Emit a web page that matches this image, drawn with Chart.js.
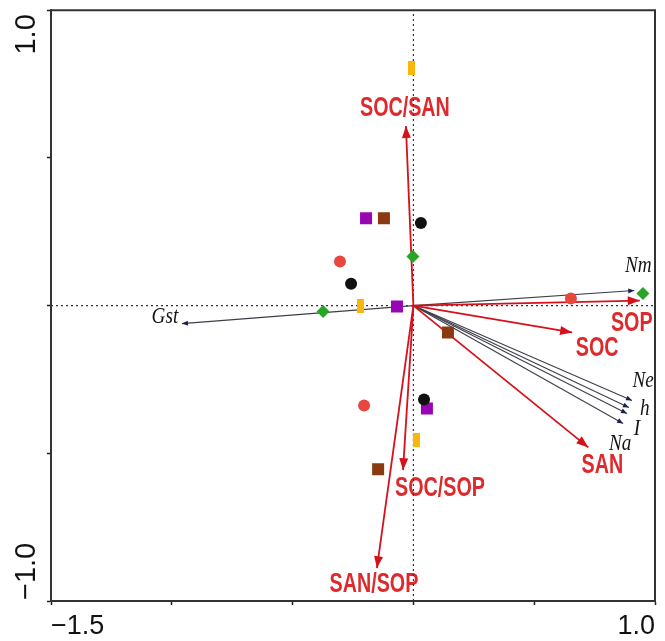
<!DOCTYPE html>
<html>
<head>
<meta charset="utf-8">
<script src="https://cdn.jsdelivr.net/npm/chart.js@4.4.1/dist/chart.umd.min.js"></script>
<style>
  html, body { margin: 0; padding: 0; background: #fff; }
  #wrap { width: 665px; height: 641px; }
</style>
</head>
<body>
<div id="wrap"><canvas id="chart" width="665" height="641"></canvas></div>
<script>
// sample scores, three per group
const blackX  = [0.031, -0.258, 0.044];
const blackY  = [0.280, 0.074, -0.318];
const redX    = [-0.304, 0.652, -0.204];
const redY    = [0.149, 0.024, -0.338];
const purpleX = [-0.196, -0.068, 0.056];
const purpleY = [0.296, -0.003, -0.348];
const brownX  = [-0.122, 0.143, -0.146];
const brownY  = [0.296, -0.091, -0.554];
const yellowX = [-0.006, -0.221, 0.011];
const yellowY = [0.804, -0.003, -0.456];
const greenX  = [-0.002, -0.374, 0.950];
const greenY  = [0.166, -0.020, 0.041];

// soil variable vectors (red arrows)
const soilNames = ['SOC/SAN', 'SOC/SOP', 'SAN/SOP', 'SOP', 'SOC', 'SAN'];
const soilX = [-0.031, -0.043, -0.151, 0.937, 0.657, 0.724];
const soilY = [0.608, -0.557, -0.889, 0.017, -0.091, -0.480];

// genetic diversity vectors (black arrows)
const geneNames = ['Nm', 'Gst', 'Ne', 'h', 'I', 'Na'];
const geneX = [0.914, -0.958, 0.905, 0.892, 0.884, 0.868];
const geneY = [0.051, -0.061, -0.321, -0.345, -0.365, -0.399];

// labelled ticks
const xTickLabels = [-1.5, 1.0];
const yTickLabels = [-1.0, 1.0];

// label offsets from the arrow tips, in pixels
const soilLabelOffset = [[-1, -17], [37, 18], [-3, 16], [-8, 23], [25, 16], [14, 18]];
const geneLabelOffset = [[4, -25], [-17, -7], [11, -20], [16, 1], [10, 15], [-3, 20]];

const fmt = v => (v < 0 ? '\u2212' : '') + Math.abs(v).toFixed(1);
const toPts = (xs, ys) => xs.map((x, i) => ({x: x, y: ys[i]}));

// yellow bars are taller than wide
const bar = document.createElement('canvas');
bar.width = 7; bar.height = 14;
const bctx = bar.getContext('2d');
bctx.fillStyle = '#F8B70A';
bctx.fillRect(0, 0, 7, 14);

const groups = [
  {x: blackX,  y: blackY,  color: '#111111', style: 'circle',  r: 6},
  {x: redX,    y: redY,    color: '#E8473F', style: 'circle',  r: 6},
  {x: purpleX, y: purpleY, color: '#9A05B3', style: 'rect',    r: 8.5},
  {x: brownX,  y: brownY,  color: '#8A3A10', style: 'rect',    r: 8.5},
  {x: yellowX, y: yellowY, color: '#F8B70A', style: bar,       r: 7},
  {x: greenX,  y: greenY,  color: '#26A526', style: 'rectRot', r: 6.5}
];

const RED_LINE = '#D5121C';

let datasets = [];
groups.forEach(g => {
  datasets.push({
    data: toPts(g.x, g.y),
    pointStyle: g.style,
    pointRadius: g.r,
    backgroundColor: g.color,
    borderWidth: 0,
    order: 0
  });
});
soilNames.forEach((n, i) => {
  datasets.push({
    data: [{x: 0, y: 0}, {x: soilX[i], y: soilY[i]}],
    showLine: true, borderColor: RED_LINE, borderWidth: 1.8, pointRadius: 0,
    arrow: {len: 12, half: 4.5, color: RED_LINE},
    order: 1
  });
});
geneNames.forEach((n, i) => {
  datasets.push({
    data: [{x: 0, y: 0}, {x: geneX[i], y: geneY[i]}],
    showLine: true, borderColor: '#3C3E4A', borderWidth: 1.1, pointRadius: 0,
    arrow: {len: 6, half: 2.5, color: '#1C1F50'},
    order: 1
  });
});
// dotted zero lines
datasets.push({
  data: [{x: 0, y: -1}, {x: 0, y: 1}],
  showLine: true, borderColor: '#333', borderWidth: 1.2, borderDash: [2, 3], pointRadius: 0, order: 2
});
datasets.push({
  data: [{x: -1.5, y: 0}, {x: 1.0, y: 0}],
  showLine: true, borderColor: '#333', borderWidth: 1.2, borderDash: [2, 3], pointRadius: 0, order: 2
});

function squeezedText(ctx, text, x, y, sx) {
  ctx.save();
  ctx.translate(x, y);
  ctx.scale(sx, 1);
  ctx.fillText(text, 0, 0);
  ctx.restore();
}

const biplotPlugin = {
  id: 'biplot',
  beforeDatasetsDraw(chart) {
    const ctx = chart.ctx, sx = chart.scales.x, sy = chart.scales.y;
    ctx.save();
    ctx.textAlign = 'center';
    ctx.textBaseline = 'middle';
    ctx.fillStyle = '#DE2A2C';
    ctx.font = 'bold 27px "Liberation Sans", Arial, sans-serif';
    soilNames.forEach((n, i) => {
      const px = sx.getPixelForValue(soilX[i]) + soilLabelOffset[i][0];
      const py = sy.getPixelForValue(soilY[i]) + soilLabelOffset[i][1];
      squeezedText(ctx, n, px, py, 0.73);
    });
    ctx.fillStyle = '#151515';
    ctx.font = 'italic 24px "Liberation Serif", "Times New Roman", serif';
    geneNames.forEach((n, i) => {
      const px = sx.getPixelForValue(geneX[i]) + geneLabelOffset[i][0];
      const py = sy.getPixelForValue(geneY[i]) + geneLabelOffset[i][1];
      squeezedText(ctx, n, px, py, 0.8);
    });
    ctx.restore();
  },
  afterDatasetDraw(chart, args) {
    const ds = chart.data.datasets[args.index];
    if (!ds.arrow) return;
    const a = args.meta.data[0], b = args.meta.data[1];
    const ang = Math.atan2(b.y - a.y, b.x - a.x);
    const L = ds.arrow.len, W = ds.arrow.half;
    const c = Math.cos(ang), s = Math.sin(ang);
    const ctx = chart.ctx;
    ctx.save();
    ctx.fillStyle = ds.arrow.color;
    ctx.beginPath();
    ctx.moveTo(b.x, b.y);
    ctx.lineTo(b.x - L * c + W * s, b.y - L * s - W * c);
    ctx.lineTo(b.x - L * c - W * s, b.y - L * s + W * c);
    ctx.closePath();
    ctx.fill();
    ctx.restore();
  },
  afterDraw(chart) {
    const ctx = chart.ctx, area = chart.chartArea, sy = chart.scales.y;
    ctx.save();
    // top and right frame
    ctx.strokeStyle = '#333';
    ctx.lineWidth = 2;
    ctx.beginPath();
    ctx.moveTo(area.left, area.top);
    ctx.lineTo(area.right, area.top);
    ctx.lineTo(area.right, area.bottom);
    ctx.stroke();
    // rotated y labels at the axis ends
    ctx.fillStyle = '#111';
    ctx.font = '29px "Liberation Sans", Arial, sans-serif';
    ctx.textBaseline = 'middle';
    yTickLabels.forEach(v => {
      const py = sy.getPixelForValue(v);
      ctx.save();
      ctx.translate(27, v > 0 ? py + 4 : py - 1);
      ctx.rotate(-Math.PI / 2);
      ctx.textAlign = v > 0 ? 'right' : 'left';
      ctx.fillText(fmt(v), 0, 0);
      ctx.restore();
    });
    ctx.restore();
  }
};

new Chart(document.getElementById('chart'), {
  type: 'scatter',
  data: {datasets: datasets},
  options: {
    responsive: false,
    animation: false,
    events: [],
    layout: {padding: {top: 9, right: 10, left: 0, bottom: 0}},
    plugins: {legend: {display: false}, tooltip: {enabled: false}},
    scales: {
      x: {
        type: 'linear', min: -1.5, max: 1.0,
        ticks: {
          stepSize: 0.5, align: 'inner', padding: 5, color: '#111',
          font: {family: '"Liberation Sans", Arial, sans-serif', size: 27},
          maxRotation: 0, autoSkip: false,
          callback: v => xTickLabels.includes(v) ? fmt(v) : ''
        },
        grid: {drawOnChartArea: false, tickLength: 4, tickColor: '#222', tickWidth: 1.5},
        border: {color: '#333', width: 2},
        afterFit: s => { s.height = 40; }
      },
      y: {
        type: 'linear', min: -1.0, max: 1.0,
        ticks: {stepSize: 0.5, callback: () => ''},
        grid: {drawOnChartArea: false, tickLength: 4, tickColor: '#222', tickWidth: 1.5},
        border: {color: '#333', width: 2},
        afterFit: s => { s.width = 51; }
      }
    }
  },
  plugins: [biplotPlugin]
});
</script>
</body>
</html>
